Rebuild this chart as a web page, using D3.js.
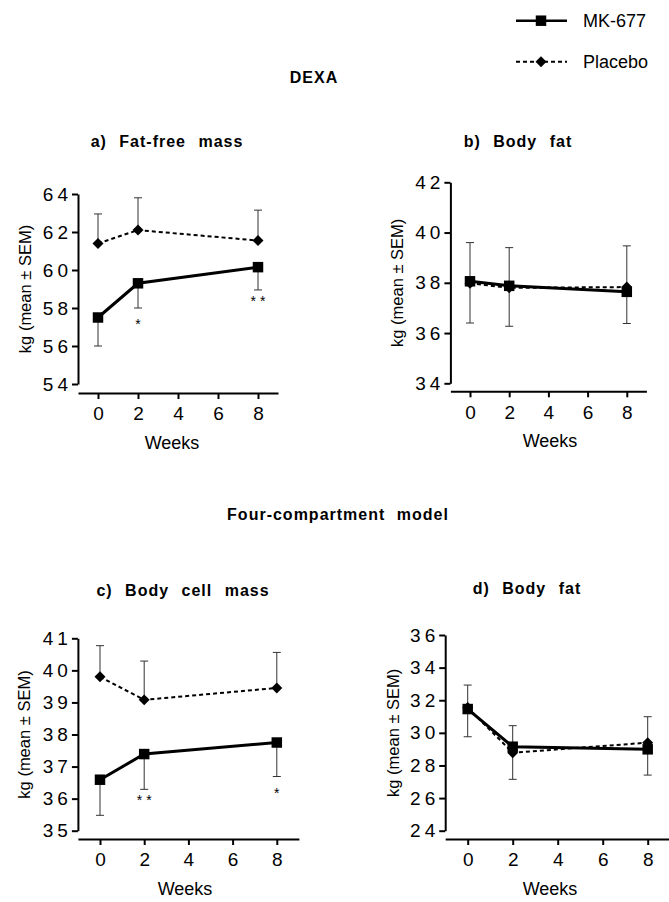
<!DOCTYPE html>
<html>
<head>
    <style>
        body {
            margin: 0;
            background: #fff;
        }
        svg text {
            font-family: "Liberation Sans", Arial, sans-serif;
            fill: #000;
        }
        .head {
            font-size: 16px;
            font-weight: bold;
            letter-spacing: 1px;
            word-spacing: 6px;
            text-anchor: middle;
        }
        .ptitle {
            font-size: 16px;
            font-weight: bold;
            letter-spacing: 1px;
            word-spacing: 7px;
            text-anchor: middle;
        }
        .yaxis text {
            font-size: 19px;
            letter-spacing: 4px;
        }
        .xaxis text {
            font-size: 19px;
        }
        .axis path, .axis line {
            stroke: #000;
            stroke-width: 2;
        }
        .ylab {
            font-size: 16.5px;
            text-anchor: middle;
        }
        .weeks {
            font-size: 18px;
            text-anchor: middle;
        }
        .sig {
            font-size: 14px;
            text-anchor: middle;
        }
        .legend text {
            font-size: 18px;
        }
    </style>
    <script src="https://d3js.org/d3.v7.min.js"></script>
</head>
<body>
    <svg width="669" height="902"></svg>

    <script>
        // data
        var weeks = [0, 2, 8];
        var xTicks = [0, 2, 4, 6, 8];

        // a) DEXA fat-free mass
        var ffmMK = [57.5, 59.3, 60.15];
        var ffmMKsem = [1.5, 1.3, 1.2];
        var ffmPlacebo = [61.4, 62.1, 61.55];
        var ffmPlaceboSem = [1.55, 1.7, 1.6];
        var ffmSig = ["", "*", "* *"];
        var ffmTicks = [54, 56, 58, 60, 62, 64];

        // b) DEXA body fat
        var dexaFatMK = [38.06, 37.88, 37.64];
        var dexaFatMKsem = [1.66, 1.61, 1.26];
        var dexaFatPlacebo = [37.98, 37.8, 37.83];
        var dexaFatPlaceboSem = [1.62, 1.6, 1.64];
        var dexaFatSig = ["", "", ""];
        var dexaFatTicks = [34, 36, 38, 40, 42];

        // c) body cell mass
        var bcmMK = [36.59, 37.39, 37.75];
        var bcmMKsem = [1.11, 1.1, 1.06];
        var bcmPlacebo = [39.8, 39.08, 39.45];
        var bcmPlaceboSem = [0.97, 1.21, 1.11];
        var bcmSig = ["", "* *", "*"];
        var bcmTicks = [35, 36, 37, 38, 39, 40, 41];

        // d) four-compartment body fat
        var fcFatMK = [31.46, 29.15, 28.99];
        var fcFatMKsem = [1.7, 2.0, 1.58];
        var fcFatPlacebo = [31.55, 28.78, 29.4];
        var fcFatPlaceboSem = [1.38, 1.66, 1.59];
        var fcFatSig = ["", "", ""];
        var fcFatTicks = [24, 26, 28, 30, 32, 34, 36];

        var svg = d3.select("svg");

        var panels = [
            {title: "a) Fat-free mass", mk: ffmMK, mkSem: ffmMKsem, pl: ffmPlacebo, plSem: ffmPlaceboSem, sig: ffmSig, ticks: ffmTicks,
             x: [78, 278], y: [384, 194], xAxisY: 393, labX: 31, weeksX: 172, titleX: 167, titleY: 147},
            {title: "b) Body fat", mk: dexaFatMK, mkSem: dexaFatMKsem, pl: dexaFatPlacebo, plSem: dexaFatPlaceboSem, sig: dexaFatSig, ticks: dexaFatTicks,
             x: [450.4, 646.4], y: [383.3, 182.3], xAxisY: 391.3, labX: 403, weeksX: 550, titleX: 518, titleY: 147},
            {title: "c) Body cell mass", mk: bcmMK, mkSem: bcmMKsem, pl: bcmPlacebo, plSem: bcmPlaceboSem, sig: bcmSig, ticks: bcmTicks,
             x: [77.9, 298.9], y: [830.7, 638.3], xAxisY: 839, labX: 30, weeksX: 185, titleX: 183, titleY: 596},
            {title: "d) Body fat", mk: fcFatMK, mkSem: fcFatMKsem, pl: fcFatPlacebo, plSem: fcFatPlaceboSem, sig: fcFatSig, ticks: fcFatTicks,
             x: [445.2, 670.2], y: [830.7, 635], xAxisY: 839, labX: 399, weeksX: 550, titleX: 527, titleY: 594}
        ];

        svg.append("text").attr("class", "head")
           .attr("x", 314).attr("y", 83).text("DEXA");
        svg.append("text").attr("class", "head")
           .attr("x", 338).attr("y", 520).text("Four-compartment model");

        var square = d3.symbol().type(d3.symbolSquare).size(110);
        var diamond = d3.symbol().type(d3.symbolSquare).size(60);

        panels.forEach(function(p) {
            var x = d3.scaleLinear().domain([-1, 9]).range(p.x);
            var y = d3.scaleLinear().domain([p.ticks[0], p.ticks[p.ticks.length - 1]]).range(p.y);
            var g = svg.append("g");

            g.append("text").attr("class", "ptitle")
             .attr("x", p.titleX).attr("y", p.titleY).text(p.title);

            // y axis
            var ya = g.append("g").attr("class", "axis yaxis")
                      .attr("transform", "translate(" + x(-1) + ",0)")
                      .call(d3.axisLeft(y).tickValues(p.ticks).tickFormat(d3.format("d"))
                              .tickSize(6).tickSizeOuter(0).tickPadding(4));
            ya.selectAll("text").attr("dx", 4);

            // x axis
            g.append("g").attr("class", "axis xaxis")
             .attr("transform", "translate(0," + p.xAxisY + ")")
             .call(d3.axisBottom(x).tickValues(xTicks).tickSize(6).tickSizeOuter(0).tickPadding(8));

            g.append("text").attr("class", "ylab")
             .attr("transform", "translate(" + p.labX + "," + (p.y[0] + p.y[1]) / 2 + ") rotate(-90)")
             .text("kg (mean \u00b1 SEM)");

            g.append("text").attr("class", "weeks")
             .attr("x", p.weeksX).attr("y", p.xAxisY + 56).text("Weeks");

            // error bars: placebo up, MK-677 down
            var bars = [];
            weeks.forEach(function(w, i) {
                bars.push({w: w, from: p.pl[i], to: p.pl[i] + p.plSem[i]});
                bars.push({w: w, from: p.mk[i], to: p.mk[i] - p.mkSem[i]});
            });
            var eb = g.selectAll(".eb").data(bars).enter().append("g")
                      .attr("stroke", "#333").attr("stroke-width", 1);
            eb.append("line")
              .attr("x1", function(d) { return x(d.w); }).attr("x2", function(d) { return x(d.w); })
              .attr("y1", function(d) { return y(d.from); }).attr("y2", function(d) { return y(d.to); });
            eb.append("line")
              .attr("x1", function(d) { return x(d.w) - 4; }).attr("x2", function(d) { return x(d.w) + 4; })
              .attr("y1", function(d) { return y(d.to); }).attr("y2", function(d) { return y(d.to); });

            var line = d3.line()
                         .x(function(d, i) { return x(weeks[i]); })
                         .y(function(d) { return y(d); });

            g.append("path").attr("d", line(p.pl))
             .attr("fill", "none").attr("stroke", "#000").attr("stroke-width", 2)
             .attr("stroke-dasharray", "4,3");
            g.append("path").attr("d", line(p.mk))
             .attr("fill", "none").attr("stroke", "#000").attr("stroke-width", 3);

            g.selectAll(".pl").data(p.pl).enter().append("path")
             .attr("d", diamond)
             .attr("transform", function(d, i) { return "translate(" + x(weeks[i]) + "," + y(d) + ") rotate(45)"; });
            g.selectAll(".mk").data(p.mk).enter().append("path")
             .attr("d", square)
             .attr("transform", function(d, i) { return "translate(" + x(weeks[i]) + "," + y(d) + ")"; });

            // significance stars under the MK-677 bars
            g.selectAll(".sig").data(p.sig).enter().append("text")
             .attr("class", "sig")
             .attr("x", function(d, i) { return x(weeks[i]); })
             .attr("y", function(d, i) { return y(p.mk[i] - p.mkSem[i]) + (d.length > 1 ? 16 : 21); })
             .text(function(d) { return d; });
        });

        // legend
        var legend = svg.append("g").attr("class", "legend");
        var items = [
            {name: "MK-677", y: 20.7, dash: null, sym: square, rot: 0, w: 2.5},
            {name: "Placebo", y: 61.7, dash: "4,3", sym: diamond, rot: 45, w: 2}
        ];
        items.forEach(function(it) {
            legend.append("line")
                  .attr("x1", 516).attr("x2", 567).attr("y1", it.y).attr("y2", it.y)
                  .attr("stroke", "#000").attr("stroke-width", it.w)
                  .attr("stroke-dasharray", it.dash);
            legend.append("path").attr("d", it.sym)
                  .attr("transform", "translate(541," + it.y + ") rotate(" + it.rot + ")");
            legend.append("text").attr("x", 583).attr("y", it.y + 6.5).text(it.name);
        });
    </script>
</body>
</html>
